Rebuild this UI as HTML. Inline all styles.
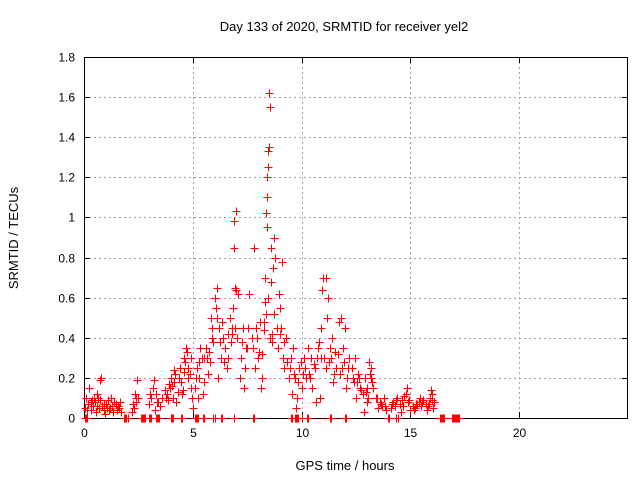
<!DOCTYPE html>
<html><head><meta charset="utf-8"><style>
body{margin:0;background:#fff}
svg{display:block;font-family:"Liberation Sans",sans-serif}
</style></head><body>
<svg id="chart" width="640" height="480">
<rect width="640" height="480" fill="#fff"/>
<text x="344" y="31" text-anchor="middle" font-size="13">Day 133 of 2020, SRMTID for receiver yel2</text>
<text x="345" y="470" text-anchor="middle" font-size="13">GPS time / hours</text>
<text transform="translate(18,238) rotate(-90)" text-anchor="middle" font-size="13">SRMTID / TECUs</text>
<g id="grid"></g><g id="ticks"></g>
<rect x="84.5" y="57.5" width="543" height="361" fill="none" stroke="#000"/>
<g id="marks" shape-rendering="crispEdges"></g>
</svg>
<script>
const xTicks=[0,5,10,15,20];
const yTicks=[0,0.2,0.4,0.6,0.8,1,1.2,1.4,1.6,1.8];
const yTickLabels=["0","0.2","0.4","0.6","0.8","1","1.2","1.4","1.6","1.8"];
const zeroTimes=[0.05,0.1,0.15,1.85,1.9,1.95,2.0,2.6,2.65,2.7,2.75,2.8,3.0,3.05,3.1,3.3,3.35,3.4,3.45,4.0,4.05,4.1,4.45,4.5,5.1,5.15,5.2,5.25,5.45,5.5,5.95,6.0,6.3,6.35,6.9,7.75,7.8,9.5,9.55,9.7,9.75,9.8,9.85,10.0,10.25,10.3,11.3,11.35,12.0,12.05,13.95,14.0,14.35,14.45,16.35,16.4,16.45,16.5,16.55,16.9,16.95,17.0,17.05,17.1,17.15,17.2,17.25];
const times=[0.05,0.1,0.2,0.25,0.3,0.4,0.5,0.55,0.6,0.7,0.75,0.8,0.85,0.9,1.0,1.1,1.2,1.3,1.4,1.5,1.6,1.7,0.35,0.65,0.95,1.05,1.25,1.45,
2.2,2.3,2.4,2.5,2.45,2.35,3.0,3.1,3.2,3.3,3.4,3.5,3.15,3.25,
3.6,3.7,3.8,3.9,4.0,4.1,4.2,4.3,4.4,4.5,4.6,4.7,4.8,4.9,5.0,4.05,4.25,4.45,4.65,4.85,3.85,4.15,4.55,4.75,4.95,
5.1,5.2,5.3,5.4,5.5,5.6,5.7,5.8,5.9,6.0,6.1,6.2,5.25,5.45,5.65,5.85,6.05,5.95,6.15,5.35,
6.3,6.4,6.5,6.6,6.7,6.8,6.9,7.0,7.1,7.2,7.3,7.4,7.5,6.85,6.9,6.95,7.0,6.75,6.55,7.15,7.35,6.45,
7.6,7.7,7.8,7.9,8.0,8.1,8.2,8.3,8.35,8.4,8.45,8.5,8.55,8.6,8.7,8.8,8.9,9.0,9.1,9.2,9.3,9.4,7.85,8.25,8.65,8.75,8.95,9.05,9.15,8.15,8.4,8.4,8.5,8.45,8.6,8.2,8.3,
9.5,9.6,9.7,9.8,9.9,10.0,10.1,10.2,10.3,9.55,9.75,9.85,10.05,
10.4,10.5,10.6,10.7,10.8,10.9,11.0,11.1,11.2,11.3,11.4,11.5,11.6,11.7,11.8,11.9,12.0,12.1,12.2,10.95,11.05,10.85,11.25,11.45,11.65,11.85,12.05,10.65,10.45,11.15,
12.3,12.4,12.5,12.6,12.7,12.8,12.9,13.0,13.1,13.2,13.3,13.4,13.5,13.6,13.7,13.8,13.9,12.45,12.65,12.85,13.05,13.15,13.25,12.95,
14.1,14.2,14.3,14.4,14.5,14.6,14.7,14.8,14.9,15.0,15.1,15.2,15.3,15.4,15.5,15.6,15.7,15.8,15.9,16.0,16.1,14.85,15.15,15.95,16.05,14.55,15.45,15.75];
const values=[0.05,0.1,0.07,0.15,0.04,0.06,0.08,0.03,0.12,0.05,0.19,0.2,0.06,0.04,0.07,0.09,0.05,0.06,0.08,0.04,0.05,0.03,0.09,0.1,0.02,0.05,0.1,0.07,
0.03,0.05,0.08,0.1,0.19,0.12,0.07,0.1,0.19,0.12,0.08,0.06,0.15,0.04,
0.1,0.14,0.12,0.17,0.2,0.1,0.22,0.13,0.25,0.12,0.3,0.35,0.2,0.15,0.05,0.16,0.08,0.18,0.28,0.22,0.09,0.24,0.14,0.33,0.1,
0.15,0.25,0.2,0.3,0.18,0.35,0.22,0.28,0.4,0.6,0.65,0.45,0.1,0.12,0.3,0.5,0.55,0.38,0.2,0.35,
0.3,0.4,0.35,0.42,0.5,0.45,0.85,1.03,0.62,0.3,0.45,0.25,0.35,0.55,0.98,0.65,0.64,0.38,0.25,0.2,0.15,0.28,
0.62,0.4,0.85,0.45,0.3,0.48,0.2,0.7,1.02,1.2,1.33,1.62,1.55,0.85,0.75,0.8,0.35,0.55,0.78,0.25,0.4,0.2,0.25,0.48,0.42,0.9,0.62,0.45,0.3,0.15,1.1,0.95,1.35,1.25,0.68,0.32,0.58,
0.3,0.35,0.2,0.1,0.25,0.15,0.3,0.2,0.35,0.12,0.05,0.18,0.22,
0.2,0.15,0.25,0.3,0.38,0.45,0.7,0.7,0.6,0.35,0.4,0.22,0.25,0.48,0.5,0.35,0.45,0.2,0.3,0.64,0.3,0.1,0.28,0.18,0.32,0.25,0.15,0.08,0.3,0.5,
0.25,0.18,0.1,0.22,0.15,0.12,0.2,0.08,0.28,0.25,0.15,0.1,0.05,0.08,0.06,0.1,0.04,0.3,0.2,0.03,0.1,0.22,0.18,0.13,
0.05,0.08,0.06,0.1,0.07,0.09,0.11,0.12,0.08,0.04,0.06,0.05,0.07,0.08,0.06,0.09,0.07,0.06,0.1,0.12,0.08,0.15,0.04,0.14,0.05,0.03,0.1,0.04];
const extraTimes=[0.15,0.3,0.45,0.6,0.75,0.9,1.15,1.35,1.55,1.65,2.25,2.4,3.05,3.35,3.75,3.95,4.15,4.35,4.6,4.8,4.9,5.15,5.3,5.5,5.75,5.9,6.1,6.25,6.35,6.6,6.8,6.95,7.05,7.25,7.45,7.55,7.75,7.95,8.05,8.25,8.35,8.45,8.55,8.65,8.75,8.85,9.0,9.2,9.35,9.45,9.65,9.95,10.15,10.35,10.55,10.75,10.9,11.1,11.35,11.55,11.75,11.95,12.15,12.35,12.55,12.75,13.0,13.2,13.45,13.65,13.85,14.15,14.35,14.65,14.95,15.25,15.55,15.85,16.0];
const extraValues=[0.04,0.08,0.1,0.06,0.09,0.07,0.04,0.03,0.06,0.08,0.07,0.1,0.12,0.08,0.1,0.15,0.18,0.2,0.23,0.25,0.3,0.2,0.28,0.3,0.33,0.45,0.5,0.38,0.48,0.3,0.42,0.45,0.4,0.38,0.35,0.45,0.35,0.4,0.33,0.44,0.52,0.6,0.4,0.38,0.52,0.45,0.42,0.38,0.28,0.25,0.22,0.28,0.25,0.22,0.27,0.35,0.3,0.25,0.3,0.33,0.22,0.28,0.25,0.2,0.18,0.14,0.15,0.2,0.1,0.07,0.06,0.07,0.09,0.06,0.09,0.07,0.08,0.07,0.09];
const NS="http://www.w3.org/2000/svg";
const X0=84,X1=628,Y0=418,Y1=57,XMAX=25,YMAX=1.8;
function sx(t){return X0+(t/XMAX)*(X1-X0);}
function sy(v){return Y0-(v/YMAX)*(Y0-Y1);}
function mk(tag,at,parent){const e=document.createElementNS(NS,tag);for(const k in at)e.setAttribute(k,at[k]);parent.appendChild(e);return e;}
const grid=document.getElementById('grid'),ticks=document.getElementById('ticks'),marks=document.getElementById('marks');
yTicks.forEach((v,i)=>{const y=Math.round(sy(v))+0.5;
 if(i>0&&i<yTicks.length-1){const g=mk('line',{x1:X0,x2:X1,y1:y,y2:y,stroke:'#a0a0a0','stroke-dasharray':'2,3'},grid);
 
 }
 mk('line',{x1:X0,x2:X0+6,y1:y,y2:y,stroke:'#000'},ticks);mk('line',{x1:X1,x2:X1-6,y1:y,y2:y,stroke:'#000'},ticks);
 const t=mk('text',{x:X0-9,y:y+4,'text-anchor':'end','font-size':'12'},ticks);t.textContent=yTickLabels[i];
 
 });
xTicks.forEach(v=>{const x=Math.round(sx(v))+0.5;
 if(v>0){const g=mk('line',{x1:x,x2:x,y1:Y1,y2:Y0,stroke:'#a0a0a0','stroke-dasharray':'2,3'},grid);
 
 }
 mk('line',{x1:x,x2:x,y1:Y0,y2:Y0-6,stroke:'#000'},ticks);mk('line',{x1:x,x2:x,y1:Y1,y2:Y1+6,stroke:'#000'},ticks);
 const t=mk('text',{x:x,y:Y0+19,'text-anchor':'middle','font-size':'12'},ticks);t.textContent=String(v);
 
 });
function plus(t,v){const x=Math.round(sx(t))+0.5,y=Math.round(sy(v))+0.5;
 const p=mk('path',{d:`M${x-4},${y}h8M${x},${y-4}v8`,stroke:'#ff0000','stroke-width':'1.3',fill:'none'},marks);
 
 }
times.forEach((t,i)=>plus(t,values[i]));
extraTimes.forEach((t,i)=>plus(t,extraValues[i]));
zeroTimes.forEach(t=>plus(t,0));
</script>
</body></html>
